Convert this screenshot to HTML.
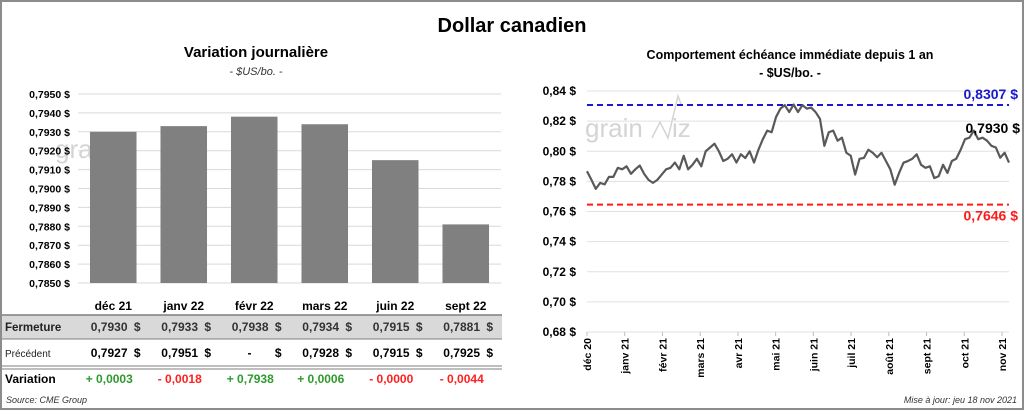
<!DOCTYPE html>
<html><head><meta charset="utf-8">
<style>
html,body{margin:0;padding:0;background:#fff;}
svg{display:block;font-family:"Liberation Sans",sans-serif;}
</style></head>
<body>
<svg id="c" width="1024" height="410" viewBox="0 0 1024 410">
<rect x="1" y="1" width="1022" height="408" fill="#fff" stroke="#8c8c8c" stroke-width="2"/>
<text x="512" y="32" text-anchor="middle" font-size="20" font-weight="bold" fill="#000">Dollar canadien</text>
<text x="256" y="57" text-anchor="middle" font-size="15" font-weight="bold">Variation  journalière</text>
<text x="256" y="75" text-anchor="middle" font-size="11" font-style="italic" fill="#333">- $US/bo. -</text>
<text x="790" y="59" text-anchor="middle" font-size="12.5" font-weight="bold">Comportement échéance immédiate depuis 1 an</text>
<text x="790" y="77" text-anchor="middle" font-size="12.5" font-weight="bold">- $US/bo. -</text>
<g id="left"></g>
<g id="table"></g>
<g id="right"></g>
<text x="6" y="403" font-size="9" font-style="italic" fill="#333">Source: CME Group</text>
<text x="1017" y="403" text-anchor="end" font-size="9" font-style="italic" fill="#333">Mise à jour: jeu 18 nov 2021</text>
</svg>
<script>
const barCats=["déc 21","janv 22","févr 22","mars 22","juin 22","sept 22"];
const closeVals=[0.7930,0.7933,0.7938,0.7934,0.7915,0.7881];
const prevLabels=["0,7927","0,7951","-","0,7928","0,7915","0,7925"];
const varLabels=["+ 0,0003","- 0,0018","+ 0,7938","+ 0,0006","- 0,0000","- 0,0044"];
const varSigns=[1,-1,1,1,-1,-1];
const barTicks=[0.7850,0.7860,0.7870,0.7880,0.7890,0.7900,0.7910,0.7920,0.7930,0.7940,0.7950];

const lineVals=[0.7867,0.7811,0.775,0.779,0.778,0.783,0.783,0.789,0.788,0.790,0.785,0.788,0.7905,0.785,0.781,0.779,0.781,0.7845,0.788,0.789,0.7925,0.788,0.797,0.788,0.791,0.795,0.790,0.800,0.8025,0.805,0.800,0.7935,0.795,0.798,0.7925,0.798,0.7955,0.800,0.7925,0.801,0.808,0.8137,0.8126,0.8227,0.8283,0.8306,0.826,0.831,0.826,0.8306,0.8283,0.829,0.826,0.8215,0.8036,0.8126,0.8137,0.807,0.809,0.799,0.797,0.7845,0.795,0.7956,0.801,0.799,0.796,0.799,0.7935,0.788,0.7778,0.7856,0.7924,0.7935,0.795,0.798,0.791,0.789,0.790,0.7822,0.7834,0.791,0.7856,0.7935,0.795,0.801,0.808,0.809,0.8137,0.808,0.809,0.807,0.8036,0.8025,0.7957,0.799,0.7925];
const lineTicks=[0.68,0.70,0.72,0.74,0.76,0.78,0.80,0.82,0.84];
const monthLabels=["déc 20","janv 21","févr 21","mars 21","avr 21","mai 21","juin 21","juil 21","août 21","sept 21","oct 21","nov 21"];
const maxVal=0.8307, minVal=0.7646, lastVal=0.7930;

const NS="http://www.w3.org/2000/svg";
function mk(p,tag,a,txt){const e=document.createElementNS(NS,tag);for(const k in a)e.setAttribute(k,a[k]);if(txt!==undefined)e.textContent=txt;p.appendChild(e);return e;}
const fmt=(v,d)=>v.toFixed(d).replace('.',',');

// left bar chart
const L=document.getElementById('left');
const lx0=78,lx1=501,ly0=283,ly1=94;
const ys=v=>ly0+(v-0.7850)/(0.7950-0.7850)*(ly1-ly0);
const bw=(lx1-lx0)/barCats.length;
mk(L,'text',{x:55,y:158,'font-size':26,fill:'#d4d4d4'},'grain');
barTicks.forEach(t=>{
  const g=mk(L,'line',{x1:lx0,x2:lx1,y1:ys(t),y2:ys(t),stroke:'#d9d9d9','stroke-width':1});
  
  
  const l=mk(L,'text',{x:70,y:ys(t)+4,'text-anchor':'end','font-size':10.5,'font-weight':'bold'},fmt(t,4)+' $');
  
  
});
closeVals.forEach((v,i)=>{
  const x=lx0+i*bw+bw*0.17;
  const r=mk(L,'rect',{x:x,y:ys(v),width:bw*0.66,height:ly0-ys(v),fill:'#808080'});
  
  
});

// table
const T=document.getElementById('table');
const colR=i=>lx0+(i+1)*bw-8;
const band=mk(T,'rect',{x:2,y:315,width:500,height:24,fill:'#d9d9d9'});


mk(T,'line',{x1:2,x2:502,y1:315,y2:315,stroke:'#7f7f7f','stroke-width':1.5});
mk(T,'line',{x1:2,x2:502,y1:339,y2:339,stroke:'#7f7f7f','stroke-width':1});
mk(T,'line',{x1:2,x2:502,y1:366,y2:366,stroke:'#7f7f7f','stroke-width':1});
mk(T,'line',{x1:2,x2:502,y1:369,y2:369,stroke:'#7f7f7f','stroke-width':1});
const h1=mk(T,'text',{x:5,y:331,'font-size':11.5,'font-weight':'bold',fill:'#222'},'Fermeture');

const h2=mk(T,'text',{x:5,y:357,'font-size':10,fill:'#222'},'Précédent');

const h3=mk(T,'text',{x:5,y:383,'font-size':12,'font-weight':'bold'},'Variation');

barCats.forEach((c,i)=>{
  const cx=lx0+i*bw+bw/2;
  const ct=mk(T,'text',{x:cx,y:310,'text-anchor':'middle','font-size':12,'font-weight':'bold'},c);
  
  
  const r=colR(i);
  mk(T,'text',{x:r,y:331,'text-anchor':'end','font-size':12,'font-weight':'bold',fill:'#333'},'$');
  const f=mk(T,'text',{x:r-13,y:331,'text-anchor':'end','font-size':12,'font-weight':'bold',fill:'#333'},fmt(closeVals[i],4));
  
  
  mk(T,'text',{x:r,y:357,'text-anchor':'end','font-size':12,'font-weight':'bold'},'$');
  const p=mk(T,'text',{x:prevLabels[i]=='-'?r-30:r-13,y:357,'text-anchor':'end','font-size':12,'font-weight':'bold'},prevLabels[i]);
  
  
  const vv=mk(T,'text',{x:cx-4,y:383,'text-anchor':'middle','font-size':12,'font-weight':'bold',fill:varSigns[i]>0?'#2e9a2e':'#ff2020'},varLabels[i]);
  
  
});

// right line chart
const R=document.getElementById('right');
const rx0=587,rx1=1009,ry0=332,ry1=91;
const yr=v=>ry0+(v-0.68)/(0.84-0.68)*(ry1-ry0);
const xr=i=>rx0+i/(lineVals.length-1)*(rx1-rx0);
mk(R,'text',{x:585,y:137,'font-size':26,fill:'#d4d4d4'},'grain');
mk(R,'text',{x:672,y:137,'font-size':26,fill:'#d4d4d4'},'iz');
mk(R,'polyline',{points:'652,138 660,122 668,138 678,96 681,104',fill:'none',stroke:'#d4d4d4','stroke-width':1.5});
lineTicks.forEach(t=>{
  const g=mk(R,'line',{x1:rx0,x2:rx1,y1:yr(t),y2:yr(t),stroke:'#e0e0e0','stroke-width':1});
  
  
  const l=mk(R,'text',{x:576,y:yr(t)+4,'text-anchor':'end','font-size':12,'font-weight':'bold'},fmt(t,2)+' $');
  
  
});
const mstep=(1002-rx0)/(monthLabels.length-1);
monthLabels.forEach((m,i)=>{
  const x=rx0+i*mstep;
  mk(R,'line',{x1:x,x2:x,y1:ry0,y2:ry0+4,stroke:'#bfbfbf'});
  const t=mk(R,'text',{x:x+4,y:ry0+6,'text-anchor':'end','font-size':10.5,'font-weight':'bold',transform:`rotate(-90 ${x+4} ${ry0+6})`},m);
  
  
});
const mx=mk(R,'line',{x1:rx0,x2:rx1,y1:yr(maxVal),y2:yr(maxVal),stroke:'#1a1acc','stroke-width':2,'stroke-dasharray':'6,4'});

const mn=mk(R,'line',{x1:rx0,x2:rx1,y1:yr(minVal),y2:yr(minVal),stroke:'#ff1a1a','stroke-width':2,'stroke-dasharray':'6,4'});

const pl=mk(R,'polyline',{points:lineVals.map((v,i)=>xr(i)+','+yr(v)).join(' '),fill:'none',stroke:'#595959','stroke-width':2.2,'stroke-linejoin':'round'});


const ml=mk(R,'text',{x:1018,y:yr(maxVal)-6,'text-anchor':'end','font-size':14,'font-weight':'bold',fill:'#1a1acc'},fmt(maxVal,4)+' $');

const nl=mk(R,'text',{x:1018,y:yr(minVal)+16,'text-anchor':'end','font-size':14,'font-weight':'bold',fill:'#ff1a1a'},fmt(minVal,4)+' $');

const ll=mk(R,'text',{x:1020,y:133,'text-anchor':'end','font-size':14,'font-weight':'bold'},fmt(lastVal,4)+' $');

</script>
</body></html>
